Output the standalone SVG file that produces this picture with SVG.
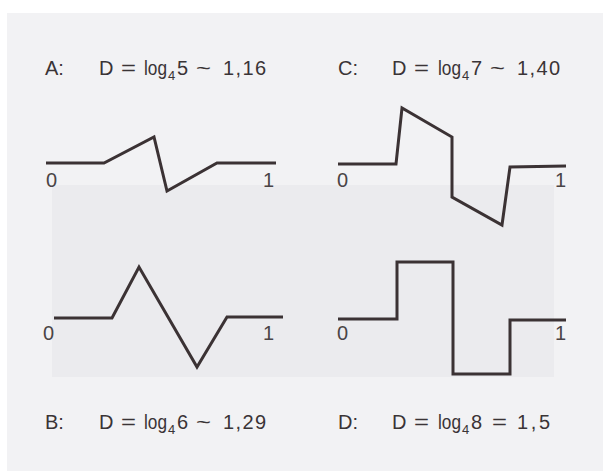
<svg xmlns="http://www.w3.org/2000/svg" width="603" height="471" viewBox="0 0 603 471">
  <style>
    .t { font-family: "Liberation Sans", Arial, sans-serif; font-size: 20px; fill: #3a3436; }
    .sub { font-size: 13px; }
    .lbl { font-family: "Liberation Sans", Arial, sans-serif; font-size: 20px; fill: #4a4446; }
    .curve { fill: none; stroke: #3b3234; stroke-width: 3; stroke-linejoin: miter; stroke-linecap: butt; }
  </style>
  <rect x="0" y="0" width="603" height="471" fill="#ffffff"/>
  <rect x="7" y="13" width="596" height="458" fill="#f2f2f4"/>
  <rect x="52" y="185" width="502" height="192" fill="#ebebee"/>

  <g id="label-A">
    <text class="t" y="75"><tspan x="45">A:</tspan><tspan x="99">D</tspan><tspan x="121" textLength="15" lengthAdjust="spacingAndGlyphs">=</tspan><tspan x="144" textLength="23" lengthAdjust="spacingAndGlyphs">log</tspan><tspan class="sub" x="168" dy="5">4</tspan><tspan x="177" dy="-5">5</tspan><tspan x="196" textLength="15" lengthAdjust="spacingAndGlyphs">~</tspan><tspan x="223" textLength="43" lengthAdjust="spacing">1,16</tspan></text>
  </g>
  <g id="label-C">
    <text class="t" y="75"><tspan x="338">C:</tspan><tspan x="392">D</tspan><tspan x="414" textLength="15" lengthAdjust="spacingAndGlyphs">=</tspan><tspan x="438" textLength="23" lengthAdjust="spacingAndGlyphs">log</tspan><tspan class="sub" x="462" dy="5">4</tspan><tspan x="471" dy="-5">7</tspan><tspan x="490" textLength="15" lengthAdjust="spacingAndGlyphs">~</tspan><tspan x="517" textLength="43" lengthAdjust="spacing">1,40</tspan></text>
  </g>
  <g id="label-B">
    <text class="t" y="429"><tspan x="45">B:</tspan><tspan x="99">D</tspan><tspan x="121" textLength="15" lengthAdjust="spacingAndGlyphs">=</tspan><tspan x="144" textLength="23" lengthAdjust="spacingAndGlyphs">log</tspan><tspan class="sub" x="168" dy="5">4</tspan><tspan x="177" dy="-5">6</tspan><tspan x="196" textLength="15" lengthAdjust="spacingAndGlyphs">~</tspan><tspan x="223" textLength="43" lengthAdjust="spacing">1,29</tspan></text>
  </g>
  <g id="label-D">
    <text class="t" y="429"><tspan x="338">D:</tspan><tspan x="392">D</tspan><tspan x="414" textLength="15" lengthAdjust="spacingAndGlyphs">=</tspan><tspan x="438" textLength="23" lengthAdjust="spacingAndGlyphs">log</tspan><tspan class="sub" x="462" dy="5">4</tspan><tspan x="471" dy="-5">8</tspan><tspan x="492" textLength="15" lengthAdjust="spacingAndGlyphs">=</tspan><tspan x="517" textLength="33" lengthAdjust="spacing">1,5</tspan></text>
  </g>

  <g id="curves">
    <polyline id="curve-A" class="curve" points="46,163 104,163 154,137 167,191 217,163 276,163"/>
    <polyline id="curve-C" class="curve" points="338,164 396,164 402,108 452,137 452,197 502,225 510,167 566,166"/>
    <polyline id="curve-B" class="curve" points="54,318 112,318 139,267 197,367 227,317 283,317"/>
    <polyline id="curve-D" class="curve" points="338,319 397,319 397,262 453,262 453,374 510,374 510,320 566,320"/>
  </g>

  <g id="axis-labels">
    <text class="lbl" x="46" y="187">0</text>
    <text class="lbl" x="263" y="187">1</text>
    <text class="lbl" x="337" y="187">0</text>
    <text class="lbl" x="555" y="187">1</text>
    <text class="lbl" x="43" y="340">0</text>
    <text class="lbl" x="263" y="340">1</text>
    <text class="lbl" x="337" y="340">0</text>
    <text class="lbl" x="555" y="340">1</text>
  </g>
</svg>
